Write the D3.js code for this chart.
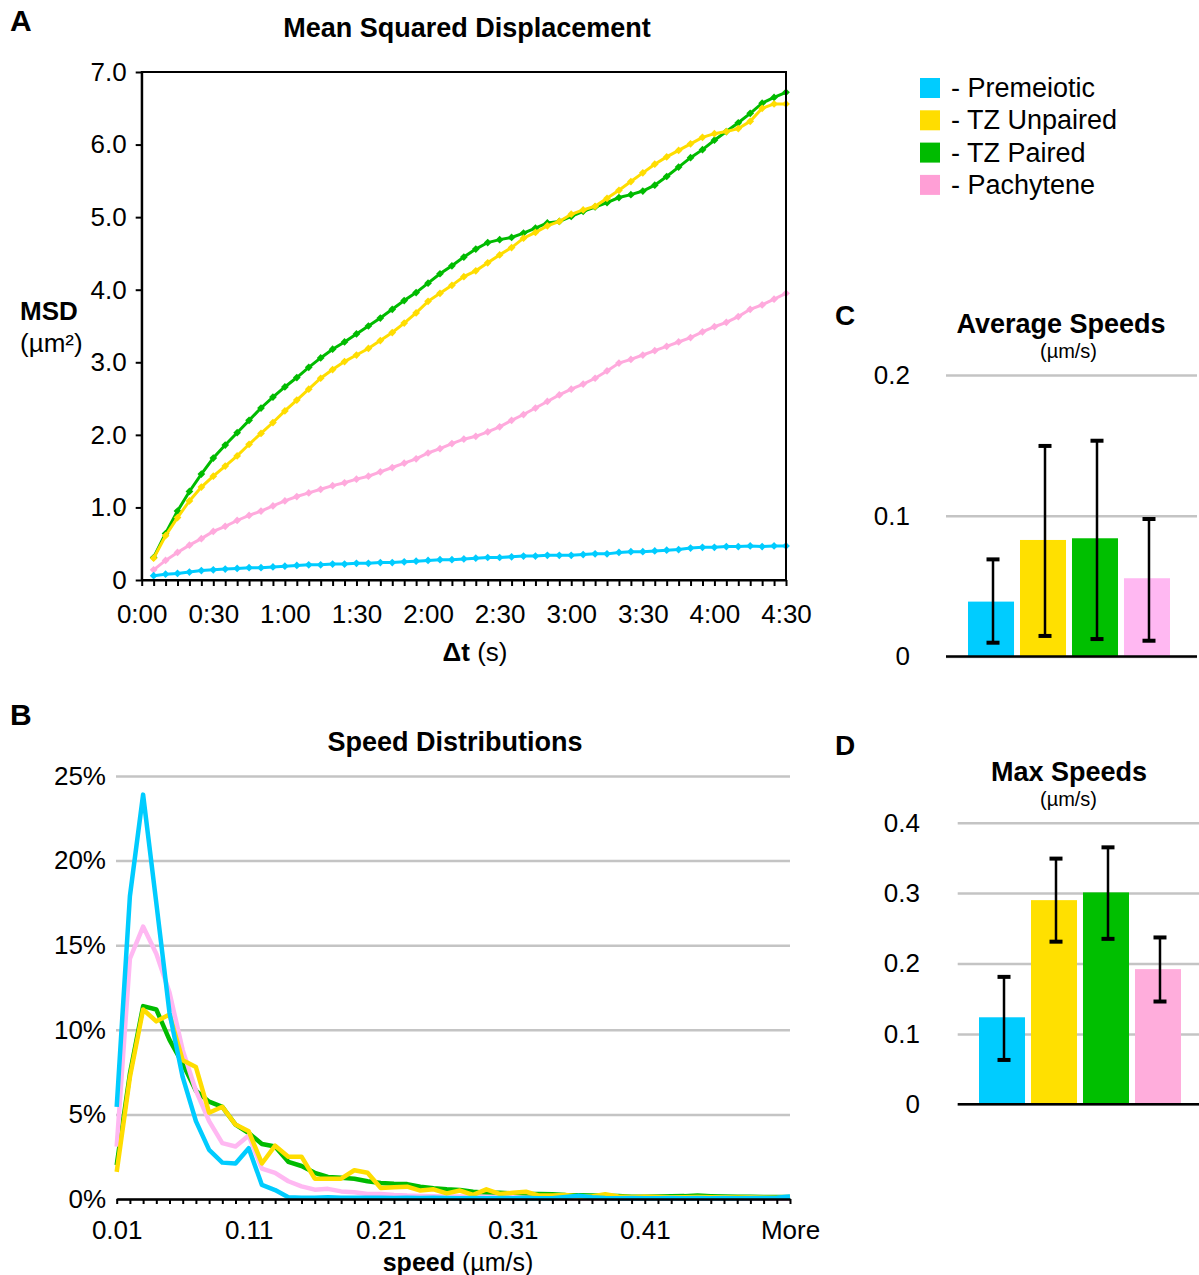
<!DOCTYPE html>
<html>
<head>
<meta charset="utf-8">
<script src="https://cdn.jsdelivr.net/npm/d3@7"></script>
<style>
  body { margin: 0; background: #fff; }
  svg text { font-family: "Liberation Sans", Arial, sans-serif; fill: #000; }
</style>
</head>
<body>
<svg id="fig" width="1199" height="1275"></svg>
<script>
(function() {

// ---- data ----
let seriesNames = ["Premeiotic", "TZ Unpaired", "TZ Paired", "Pachytene"];

// lag times (s) for the MSD curves
let lagTimes = [5, 10, 15, 20, 25, 30, 35, 40, 45, 50, 55, 60, 65, 70, 75, 80, 85, 90,
  95, 100, 105, 110, 115, 120, 125, 130, 135, 140, 145, 150, 155, 160, 165, 170, 175, 180,
  185, 190, 195, 200, 205, 210, 215, 220, 225, 230, 235, 240, 245, 250, 255, 260, 265, 270];
let lagTickLabels = ["0:00", "0:30", "1:00", "1:30", "2:00", "2:30", "3:00", "3:30", "4:00", "4:30"];

let msdPremeiotic = [0.06, 0.08, 0.09, 0.11, 0.13, 0.14, 0.15, 0.16, 0.17, 0.17, 0.18, 0.19,
  0.20, 0.21, 0.21, 0.22, 0.22, 0.23, 0.23, 0.24, 0.24, 0.25, 0.26, 0.27, 0.28, 0.28, 0.29,
  0.30, 0.31, 0.31, 0.32, 0.33, 0.33, 0.34, 0.34, 0.34, 0.35, 0.36, 0.36, 0.38, 0.39, 0.39,
  0.40, 0.41, 0.42, 0.44, 0.45, 0.45, 0.46, 0.46, 0.47, 0.46, 0.47, 0.47];
let msdUnpaired = [0.30, 0.61, 0.86, 1.09, 1.28, 1.43, 1.57, 1.71, 1.87, 2.02, 2.17, 2.33,
  2.48, 2.63, 2.78, 2.90, 3.01, 3.10, 3.19, 3.30, 3.41, 3.54, 3.68, 3.84, 3.95, 4.06, 4.18,
  4.26, 4.37, 4.48, 4.58, 4.71, 4.79, 4.88, 4.94, 5.04, 5.10, 5.15, 5.26, 5.37, 5.49, 5.61,
  5.73, 5.83, 5.92, 6.01, 6.10, 6.15, 6.18, 6.22, 6.32, 6.50, 6.56, 6.56];
let msdPaired = [0.31, 0.64, 0.95, 1.22, 1.46, 1.68, 1.86, 2.03, 2.20, 2.37, 2.52, 2.66,
  2.79, 2.93, 3.06, 3.18, 3.28, 3.39, 3.50, 3.61, 3.73, 3.85, 3.96, 4.09, 4.22, 4.33, 4.45,
  4.56, 4.65, 4.69, 4.72, 4.78, 4.85, 4.92, 4.94, 5.01, 5.08, 5.14, 5.20, 5.27, 5.31, 5.36,
  5.44, 5.56, 5.69, 5.82, 5.93, 6.06, 6.18, 6.30, 6.43, 6.57, 6.65, 6.72];
let msdPachytene = [0.14, 0.27, 0.38, 0.48, 0.57, 0.67, 0.74, 0.82, 0.89, 0.95, 1.02, 1.09,
  1.15, 1.20, 1.25, 1.30, 1.34, 1.39, 1.43, 1.49, 1.55, 1.61, 1.67, 1.75, 1.81, 1.88, 1.94,
  1.98, 2.04, 2.11, 2.20, 2.28, 2.37, 2.46, 2.55, 2.63, 2.70, 2.78, 2.88, 2.99, 3.04, 3.10,
  3.16, 3.22, 3.28, 3.34, 3.42, 3.49, 3.55, 3.63, 3.73, 3.79, 3.87, 3.95];

// speed histogram bins (um/s) and percent of steps in each
let speedBins = ["0.01", "0.02", "0.03", "0.04", "0.05", "0.06", "0.07", "0.08", "0.09", "0.10",
  "0.11", "0.12", "0.13", "0.14", "0.15", "0.16", "0.17", "0.18", "0.19", "0.20",
  "0.21", "0.22", "0.23", "0.24", "0.25", "0.26", "0.27", "0.28", "0.29", "0.30",
  "0.31", "0.32", "0.33", "0.34", "0.35", "0.36", "0.37", "0.38", "0.39", "0.40",
  "0.41", "0.42", "0.43", "0.44", "0.45", "0.46", "0.47", "0.48", "0.49", "0.50",
  "0.51", "More"];
let speedTickLabels = ["0.01", "0.11", "0.21", "0.31", "0.41", "More"];

let distPremeiotic = [5.45, 17.9, 23.9, 17.5, 11.0, 7.2, 4.6, 2.9, 2.15, 2.1,
  3.0, 0.83, 0.53, 0.1, 0.08, 0.08, 0.1, 0.07, 0.08, 0.07,
  0.08, 0.06, 0.07, 0.06, 0.07, 0.06, 0.05, 0.06, 0.05, 0.06,
  0.05, 0.06, 0.05, 0.05, 0.12, 0.2, 0.1, 0.06, 0.05, 0.06,
  0.05, 0.05, 0.06, 0.05, 0.06, 0.05, 0.06, 0.05, 0.06, 0.06, 0.08, 0.15];
let distUnpaired = [1.6, 7.2, 11.2, 10.5, 10.9, 8.2, 7.8, 5.1, 5.45, 4.4,
  4.0, 2.1, 3.15, 2.5, 2.5, 1.2, 1.2, 1.2, 1.7, 1.55,
  0.65, 0.7, 0.73, 0.5, 0.57, 0.33, 0.5, 0.24, 0.57, 0.3,
  0.37, 0.43, 0.2, 0.2, 0.24, 0.15, 0.15, 0.28, 0.15, 0.12,
  0.13, 0.12, 0.1, 0.1, 0.12, 0.1, 0.1, 0.09, 0.1, 0.09, 0.08, 0.1];
let distPaired = [2.0, 7.4, 11.4, 11.2, 9.4, 8.0, 6.4, 5.75, 5.45, 4.4,
  3.9, 3.25, 3.1, 2.2, 1.95, 1.55, 1.3, 1.25, 1.2, 1.05,
  0.95, 0.9, 0.88, 0.73, 0.63, 0.57, 0.53, 0.43, 0.37, 0.37,
  0.33, 0.3, 0.3, 0.28, 0.24, 0.22, 0.2, 0.19, 0.18, 0.14,
  0.14, 0.15, 0.16, 0.17, 0.2, 0.17, 0.15, 0.14, 0.13, 0.12, 0.12, 0.12];
let distPachytene = [3.1, 14.2, 16.1, 14.5, 12.2, 8.8, 6.4, 4.6, 3.3, 3.1,
  3.75, 1.8, 1.55, 1.05, 0.75, 0.55, 0.6, 0.45, 0.4, 0.3,
  0.3, 0.24, 0.2, 0.18, 0.16, 0.15, 0.15, 0.14, 0.13, 0.12,
  0.1, 0.08, 0.07, 0.06, 0.06, 0.05, 0.05, 0.05, 0.05, 0.04,
  0.04, 0.04, 0.04, 0.04, 0.03, 0.03, 0.03, 0.03, 0.03, 0.03, 0.03, 0.03];

// average and max speeds (um/s) with error bar ends
let avgSpeed = [0.039, 0.0828, 0.084, 0.0556];
let avgLow = [0.0098, 0.0146, 0.0124, 0.0112];
let avgHigh = [0.069, 0.1496, 0.1533, 0.0977];
let maxSpeed = [0.1236, 0.290, 0.301, 0.192];
let maxLow = [0.063, 0.231, 0.235, 0.146];
let maxHigh = [0.181, 0.349, 0.365, 0.237];

// ---- styles ----
let colors = ["#00CCFF", "#FFDD00", "#00BB00", "#FFAADD"];
let lightPink = "#FFB8F2";
let gridGray = "#C4C4C4";
let font = "\"Liberation Sans\", Arial, sans-serif";

let svg = d3.select("#fig");

function label(x, y, text, size, weight, anchor) {
  return svg.append("text")
    .attr("x", x).attr("y", y)
    .attr("font-size", size)
    .attr("font-weight", weight || "normal")
    .attr("text-anchor", anchor || "start")
    .text(text);
}

// ================= Panel A: MSD =================
let xA = d3.scaleLinear().domain([0, 270]).range([141.7, 786]);
let yA = d3.scaleLinear().domain([0, 7]).range([580, 72]);

let msdSeries = [msdPremeiotic, msdUnpaired, msdPaired, msdPachytene];
let drawOrderA = [3, 0, 2, 1];

let panelA = svg.append("g");

drawOrderA.forEach((s) => {
  let pts = lagTimes.map((t, i) => [t, msdSeries[s][i]]);
  let g = panelA.append("g");
  g.append("path")
    .attr("d", d3.line().x(d => xA(d[0])).y(d => yA(d[1]))(pts))
    .attr("fill", "none")
    .attr("stroke", colors[s])
    .attr("stroke-width", 3);
  g.selectAll("path.mk").data(pts).enter().append("path")
    .attr("class", "mk")
    .attr("d", d3.symbol().type(d3.symbolSquare).size(30)())
    .attr("transform", d => "translate(" + xA(d[0]) + "," + yA(d[1]) + ") rotate(45)")
    .attr("fill", colors[s]);
});

// plot frame
panelA.append("rect")
  .attr("x", xA(0)).attr("y", yA(7))
  .attr("width", xA(270) - xA(0)).attr("height", yA(0) - yA(7))
  .attr("fill", "none").attr("stroke", "#000").attr("stroke-width", 2);

let yAxisA = panelA.append("g")
  .attr("transform", "translate(" + xA(0) + ",0)")
  .call(d3.axisLeft(yA).tickValues(d3.range(0, 8, 1))
    .tickFormat(d => d === 0 ? "0" : d.toFixed(1))
    .tickSize(6).tickSizeOuter(0).tickPadding(9));

let xAxisA = panelA.append("g")
  .attr("transform", "translate(0," + yA(0) + ")")
  .call(d3.axisBottom(xA).tickValues([0].concat(lagTimes))
    .tickFormat(d => d % 30 === 0 ? lagTickLabels[d / 30] : "")
    .tickSize(6).tickSizeOuter(0).tickPadding(19));

[yAxisA, xAxisA].forEach((ax) => {
  ax.select(".domain").attr("stroke", "#000").attr("stroke-width", 2);
  ax.selectAll(".tick line").attr("stroke", "#000").attr("stroke-width", 2);
  ax.selectAll(".tick text").attr("font-size", 26).attr("font-family", font).attr("fill", "#000");
});

label(10, 31, "A", 30, "bold");
label(467, 37, "Mean Squared Displacement", 27, "bold", "middle");
label(20, 320, "MSD", 26, "bold");
label(20, 352, "(\u00b5m\u00b2)", 26);
let dtLabel = svg.append("text").attr("x", 475).attr("y", 661)
  .attr("text-anchor", "middle").attr("font-size", 26);
dtLabel.append("tspan").attr("font-weight", "bold").text("\u0394t");
dtLabel.append("tspan").text(" (s)");

// legend
let legend = svg.append("g").attr("transform", "translate(920,78)");
seriesNames.forEach((name, i) => {
  let row = legend.append("g").attr("transform", "translate(0," + (i * 32.3) + ")");
  row.append("rect").attr("width", 20).attr("height", 20)
    .attr("fill", i === 3 ? "#FF9FD6" : colors[i]);
  row.append("text").attr("x", 31).attr("y", 19)
    .attr("font-size", 27).attr("fill", "#333").text("- " + name);
});

// ================= Panel B: speed distributions =================
let xB = d3.scalePoint().domain(speedBins).range([116.7, 790]);
let yB = d3.scaleLinear().domain([0, 25]).range([1199, 776]);

let panelB = svg.append("g");

let gridB = panelB.append("g")
  .attr("transform", "translate(116,0)")
  .call(d3.axisLeft(yB).tickValues([0, 5, 10, 15, 20, 25])
    .tickFormat(d => d + "%")
    .tickSize(-(790 - 116)).tickPadding(10));
gridB.select(".domain").remove();
gridB.selectAll(".tick line").attr("stroke", gridGray).attr("stroke-width", 2.5);
gridB.selectAll(".tick text").attr("font-size", 26).attr("font-family", font).attr("fill", "#000");

let distSeries = [distPremeiotic, distUnpaired, distPaired, distPachytene];
let distColors = [colors[0], colors[1], colors[2], lightPink];
let drawOrderB = [2, 3, 1, 0];
drawOrderB.forEach((s) => {
  panelB.append("path")
    .attr("d", d3.line().x((d, i) => xB(speedBins[i])).y(d => yB(d))(distSeries[s]))
    .attr("fill", "none")
    .attr("stroke", distColors[s])
    .attr("stroke-width", 4.5)
    .attr("stroke-linejoin", "round");
});

let xAxisB = panelB.append("g")
  .attr("transform", "translate(0," + yB(0) + ")")
  .call(d3.axisBottom(xB)
    .tickFormat(d => speedTickLabels.indexOf(d) >= 0 ? d : "")
    .tickSize(5).tickSizeOuter(0).tickPadding(17));
xAxisB.select(".domain").attr("stroke", "#000").attr("stroke-width", 2.5);
xAxisB.selectAll(".tick line").attr("stroke", "#000").attr("stroke-width", 2);
xAxisB.selectAll(".tick text").attr("font-size", 26).attr("font-family", font).attr("fill", "#000");

label(10, 725, "B", 30, "bold");
label(455, 751, "Speed Distributions", 27, "bold", "middle");
let spLabel = svg.append("text").attr("x", 458).attr("y", 1271)
  .attr("text-anchor", "middle").attr("font-size", 25);
spLabel.append("tspan").attr("font-weight", "bold").text("speed");
spLabel.append("tspan").text(" (\u00b5m/s)");

// ================= Panels C & D: bar charts =================
function barPanel(opts) {
  let g = svg.append("g");
  let y = d3.scaleLinear().domain([0, opts.max]).range([opts.y0, opts.yTop]);
  let x = d3.scaleBand().domain(seriesNames).range(opts.barRange).paddingInner(0.115);

  let grid = g.append("g")
    .attr("transform", "translate(" + opts.gridX[0] + ",0)")
    .call(d3.axisLeft(y).tickValues(opts.ticks)
      .tickFormat(d => d === 0 ? "0" : d.toFixed(1))
      .tickSize(-(opts.gridX[1] - opts.gridX[0])).tickPadding(opts.pad));
  grid.select(".domain").remove();
  grid.selectAll(".tick line").attr("stroke", gridGray).attr("stroke-width", 2.5);
  grid.selectAll(".tick text").attr("font-size", 26).attr("font-family", font).attr("fill", "#000");

  g.selectAll("rect.bar").data(opts.values).enter().append("rect")
    .attr("class", "bar")
    .attr("x", (d, i) => x(seriesNames[i]))
    .attr("y", d => y(d))
    .attr("width", x.bandwidth())
    .attr("height", d => y(0) - y(d))
    .attr("fill", (d, i) => opts.colors[i]);

  // baseline
  g.append("line")
    .attr("x1", opts.gridX[0]).attr("x2", opts.gridX[1])
    .attr("y1", y(0)).attr("y2", y(0))
    .attr("stroke", "#000").attr("stroke-width", 2.5);

  // error bars
  seriesNames.forEach((name, i) => {
    let cx = x(name) + x.bandwidth() / 2 + 2;
    g.append("line")
      .attr("x1", cx).attr("x2", cx)
      .attr("y1", y(opts.low[i])).attr("y2", y(opts.high[i]))
      .attr("stroke", "#000").attr("stroke-width", 2.5);
    [opts.low[i], opts.high[i]].forEach((v) => {
      g.append("line")
        .attr("x1", cx - 6.5).attr("x2", cx + 6.5)
        .attr("y1", y(v)).attr("y2", y(v))
        .attr("stroke", "#000").attr("stroke-width", 4);
    });
  });

  label(835, opts.letterY, opts.letter, 28, "bold");
  label(opts.titleX, opts.titleY, opts.title, 27, "bold", "middle");
  label(1068.5, opts.titleY + 25, "(\u00b5m/s)", 20, "normal", "middle");
}

barPanel({
  letter: "C", letterY: 325, title: "Average Speeds", titleX: 1061, titleY: 333,
  max: 0.2, ticks: [0, 0.1, 0.2], y0: 656.5, yTop: 375,
  barRange: [968, 1170], gridX: [946, 1197], pad: 36,
  values: avgSpeed, low: avgLow, high: avgHigh,
  colors: [colors[0], "#FFE000", "#00BF00", lightPink]
});

barPanel({
  letter: "D", letterY: 755, title: "Max Speeds", titleX: 1069, titleY: 781,
  max: 0.4, ticks: [0, 0.1, 0.2, 0.3, 0.4], y0: 1104.3, yTop: 822.7,
  barRange: [979, 1181], gridX: [957.7, 1199], pad: 37.7,
  values: maxSpeed, low: maxLow, high: maxHigh,
  colors: [colors[0], "#FFE000", "#00BF00", "#FFADDC"]
});

})();
</script>
</body>
</html>
